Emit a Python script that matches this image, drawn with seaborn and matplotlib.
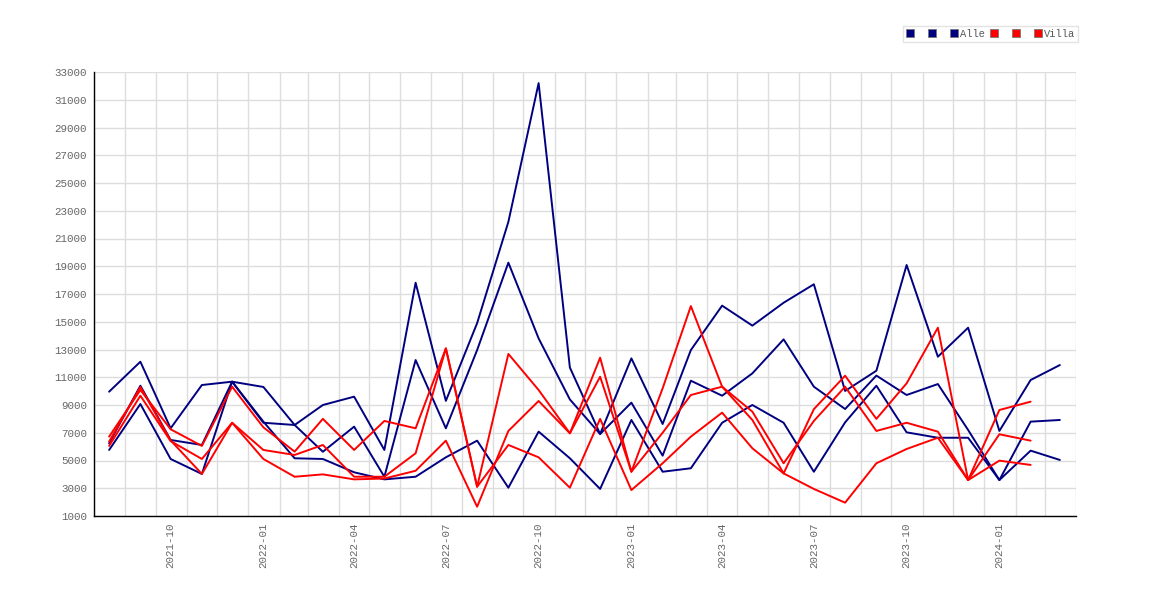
import pandas as pd
import matplotlib
matplotlib.use("Agg")
import matplotlib.pyplot as plt
import matplotlib.dates as mdates
from matplotlib.lines import Line2D
import seaborn as sns

# -------------------------------
# Data
# -------------------------------
months = pd.date_range("2021-08-01", periods=32, freq="MS") + pd.Timedelta(days=15)

alle_1 = [9960, 12120, 7320, 10440, 10680, 10300, 7560, 9000, 9600, 5760,
          17810, 9300, 14900, 22200, 32200, 11700, 6910, 12360, 7630, 12960,
          16160, 14720, 16370, 17700, 10010, 11470, 19090, 12480, 14570, 7130,
          10800, 11880]
alle_2 = [6240, 10390, 6480, 6120, 10680, 7720, 7560, 5630, 7440, 3830,
          12240, 7320, 12960, 19260, 13800, 9400, 6910, 9170, 5350, 10750,
          9670, 11280, 13730, 10320, 8710, 11120, 9720, 10510, 7200, 3590,
          7800, 7920]
alle_3 = [5760, 9070, 5110, 4030, 10680, 7800, 5160, 5110, 4150, 3640,
          3830, 5230, 6430, 3040, 7080, 5160, 2950, 7920, 4190, 4440,
          7720, 9000, 7720, 4190, 7750, 10390, 7030, 6640, 6640, 3590,
          5710, 5040]

villa_1 = [6720, 10080, 7250, 6050, 10320, 7390, 5640, 8000, 5760, 7850,
           7320, 13080, 3110, 12680, 10080, 6960, 12410, 4190, 10200, 16130,
           10320, 8520, 4800, 7850, 10320, 7130, 7720, 7080, 3590, 6890,
           6430]
villa_2 = [6050, 9670, 6400, 5110, 7720, 5760, 5400, 6120, 3830, 3830,
           5520, 13080, 3110, 6120, 5230, 3040, 8000, 2870, 4800, 6720,
           8450, 5880, 4070, 2950, 1960, 4800, 5830, 6640, 3590, 4990,
           4680]
villa_3 = [6360, 10300, 6450, 4030, 7720, 5110, 3830, 4000, 3640, 3700,
           4260, 6430, 1670, 7130, 9290, 6960, 11040, 4190, 7000, 9720,
           10320, 7920, 4070, 8700, 11110, 8000, 10560, 14570, 3590, 8640,
           9240]

y_ticks = list(range(1000, 33001, 2000))

series = {
    "alle_1": alle_1, "alle_2": alle_2, "alle_3": alle_3,
    "villa_1": villa_1, "villa_2": villa_2, "villa_3": villa_3,
}

frames = []
for name, vals in series.items():
    frames.append(pd.DataFrame({"date": months[:len(vals)], "value": vals, "series": name}))
df = pd.concat(frames, ignore_index=True)

navy = "#000080"
red = "#ff0000"
palette = {k: (navy if k.startswith("alle") else red) for k in series}

# -------------------------------
# Plot
# -------------------------------
sns.set_style("white")
plt.rcParams["font.family"] = ["Liberation Mono", "DejaVu Sans Mono"]

fig = plt.figure(figsize=(11.7, 6), dpi=100)
ax = fig.add_axes([94 / 1170, 84 / 600, 982 / 1170, 444 / 600])

sns.lineplot(data=df, x="date", y="value", hue="series", palette=palette,
             linewidth=1.4, legend=False, ax=ax)

ax.set_xlim(pd.Timestamp("2021-08-01"), pd.Timestamp("2024-04-01"))
ax.set_ylim(1000, 33000)
ax.set_yticks(y_ticks)
ax.set_xticks(months[2::3])
ax.xaxis.set_major_formatter(mdates.DateFormatter("%Y-%m"))
ax.xaxis.set_minor_locator(mdates.MonthLocator())

ax.grid(True, axis="y", color="#dddddd", linewidth=1)
ax.grid(True, axis="x", which="minor", color="#dddddd", linewidth=1)
ax.grid(False, axis="x", which="major")
ax.set_axisbelow(True)

ax.tick_params(axis="both", which="both", length=0, labelcolor="#666666", labelsize=7.8)
ax.tick_params(axis="y", pad=5)
ax.tick_params(axis="x", pad=5)
plt.setp(ax.get_xticklabels(), rotation=90, ha="center", va="top")

ax.set_xlabel("")
ax.set_ylabel("")
for s in ["top", "right"]:
    ax.spines[s].set_visible(False)
for s in ["left", "bottom"]:
    ax.spines[s].set_color("black")
    ax.spines[s].set_linewidth(1)

# legend: three squares per group, label on the last one
def sq(c):
    return Line2D([], [], marker="s", linestyle="none", markersize=5.2,
                  markerfacecolor=c, markeredgecolor="#777777", markeredgewidth=0.6)

handles = [sq(navy), sq(navy), sq(navy), sq(red), sq(red), sq(red)]
labels = [" ", " ", "Alle", " ", " ", "Villa"]
leg = fig.legend(handles, labels, ncol=6, loc="upper right",
                 bbox_to_anchor=(1078 / 1170, 1 - 26 / 600), bbox_transform=fig.transFigure,
                 frameon=True, fancybox=False, edgecolor="#dddddd",
                 handlelength=0.85, handletextpad=0.14, columnspacing=0.5,
                 borderpad=0.3, borderaxespad=0, fontsize=7.5)
for t in leg.get_texts():
    t.set_color("#555555")
leg.get_frame().set_linewidth(1)

fig.savefig("out.png", dpi=100)
